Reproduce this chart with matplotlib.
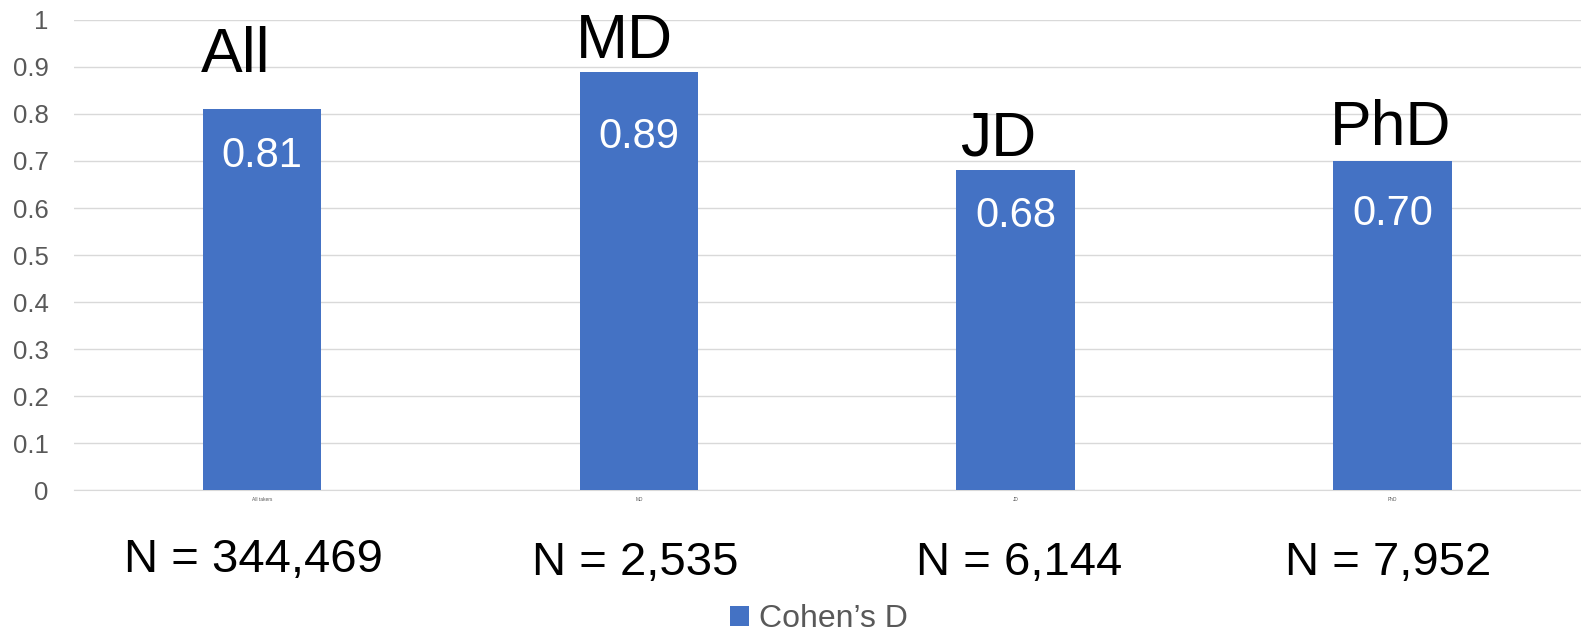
import numpy as np
import matplotlib.pyplot as plt

plt.rcParams['font.family'] = ['Liberation Sans', 'DejaVu Sans']

# data
groups = ['All takers', 'MD', 'JD', 'PhD']
short_names = ['All', 'MD', 'JD', 'PhD']
cohens_d = [0.81, 0.89, 0.68, 0.70]
value_text = ['0.81', '0.89', '0.68', '0.70']
n_text = ['N = 344,469', 'N = 2,535', 'N = 6,144', 'N = 7,952']

# per-label offsets (layout only): pixels from bar top, x shift for labels
name_dx = [-26, -14, -18, -2]
name_off = [37, 14, 15, 16]
val_off = [-58, -76, -57, -64]
n_dx = [-0.024, -0.01, 0.008, -0.013]
n_y = [-0.174, -0.181, -0.181, -0.181]

blue = '#4472C4'
gray = '#595959'
px = 0.72  # points per pixel at dpi 100

fig = plt.figure(figsize=(15.81, 6.4), dpi=100)
ax = fig.add_axes([0.0466, 0.234, 0.9534, 0.735])

x = np.arange(len(groups))
ax.bar(x, cohens_d, width=0.315, color=blue, zorder=3, label='Cohen\u2019s D')

ax.set_xlim(-0.5, len(groups) - 0.5)
ax.set_ylim(0, 1)
ax.set_yticks(np.arange(0, 1.01, 0.1))
ax.set_yticklabels(['0', '0.1', '0.2', '0.3', '0.4', '0.5', '0.6', '0.7', '0.8', '0.9', '1'])
ax.yaxis.grid(True, color='#D9D9D9', linewidth=1, zorder=0)
ax.tick_params(axis='y', length=0, pad=18, labelsize=18.5, labelcolor=gray)
ax.set_xticks(x)
ax.set_xticklabels(groups)
ax.tick_params(axis='x', length=0, pad=5, labelsize=3.5, labelcolor=gray)
for s in ['top', 'right', 'left']:
    ax.spines[s].set_visible(False)
ax.spines['bottom'].set_color('#D9D9D9')

for i in range(len(groups)):
    ax.annotate(short_names[i], (x[i], cohens_d[i]),
                xytext=(name_dx[i] * px, name_off[i] * px),
                textcoords='offset points', ha='center', va='baseline', fontsize=45, color='black')
    ax.annotate(value_text[i], (x[i], cohens_d[i]), xytext=(0, val_off[i] * px),
                textcoords='offset points', ha='center', va='baseline', fontsize=30, color='white')
    ax.text(x[i] + n_dx[i], n_y[i], n_text[i], ha='center', va='baseline', fontsize=34,
            color='black')

leg = fig.legend(loc='lower center', bbox_to_anchor=(0.518, -0.036), frameon=False,
                 fontsize=23, handlelength=0.6, handleheight=0.6, handletextpad=0.3)
for t in leg.get_texts():
    t.set_color(gray)

fig.savefig('out.png', dpi=100)
